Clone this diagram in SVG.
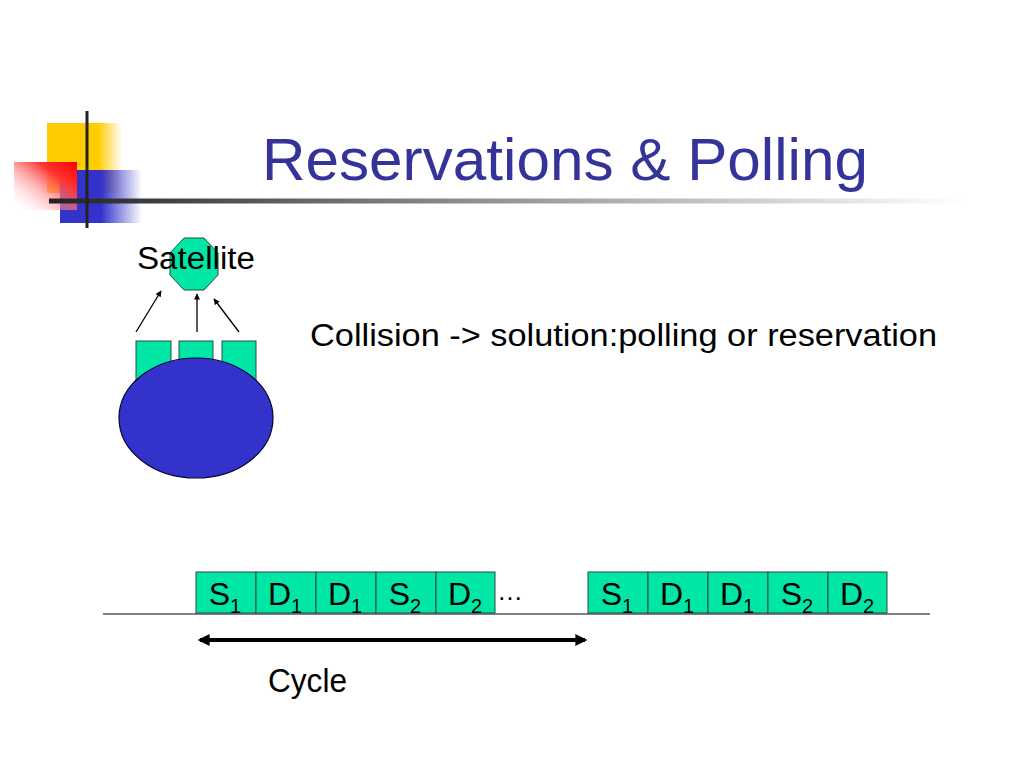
<svg xmlns="http://www.w3.org/2000/svg" width="1024" height="768" viewBox="0 0 1024 768">
<defs>
<style>
.t{font-family:"Liberation Sans",Arial,sans-serif;fill:#000}
.cell{fill:#00E6A6;stroke:#2a4a40;stroke-width:1}
.ct{font-family:"Liberation Sans",Arial,sans-serif;font-size:32px;fill:#000;text-anchor:middle}
.sub{font-size:20px}
.thin{stroke:#000;stroke-width:1.3;fill:none}
</style>
<linearGradient id="gy" x1="0" y1="0" x2="1" y2="0">
<stop offset="0" stop-color="#FFCC00"/>
<stop offset="0.68" stop-color="#FFCC00"/>
<stop offset="1" stop-color="#FFCC00" stop-opacity="0"/>
</linearGradient>
<linearGradient id="gb" x1="0" y1="0" x2="1" y2="0">
<stop offset="0" stop-color="#3333CC"/>
<stop offset="0.5" stop-color="#3333CC"/>
<stop offset="1" stop-color="#3333CC" stop-opacity="0"/>
</linearGradient>
<linearGradient id="gr" x1="1" y1="0" x2="0" y2="1">
<stop offset="0" stop-color="#FF0000"/>
<stop offset="0.3" stop-color="#FF3333"/>
<stop offset="1" stop-color="#FFFFFF" stop-opacity="0"/>
</linearGradient>
<linearGradient id="gl" x1="0" y1="0" x2="1" y2="0">
<stop offset="0" stop-color="#222"/>
<stop offset="0.35" stop-color="#777"/>
<stop offset="1" stop-color="#FFFFFF"/>
</linearGradient>
<marker id="ah" viewBox="0 0 10 10" refX="9" refY="5" markerWidth="7" markerHeight="6" orient="auto" markerUnits="userSpaceOnUse">
<path d="M0,0 L10,5 L0,10 Z" fill="#000"/>
</marker>
<marker id="ahb" viewBox="0 0 10 10" refX="8" refY="5" markerWidth="14" markerHeight="12" orient="auto-start-reverse" markerUnits="userSpaceOnUse">
<path d="M0,0 L10,5 L0,10 Z" fill="#000"/>
</marker>
</defs>
<rect width="1024" height="768" fill="#fff"/>

<g id="logo">
<rect x="47" y="123" width="75" height="70" fill="url(#gy)"/>
<rect x="60" y="170" width="82" height="53" fill="url(#gb)"/>
<rect x="14" y="162" width="63" height="48" fill="url(#gr)"/>
<rect x="49" y="198.5" width="915" height="5" fill="url(#gl)"/>
<rect x="85.5" y="111" width="3" height="117" fill="#222"/>
</g>

<g id="title">
<text class="t" x="262" y="180" font-size="60" style="fill:#333399" textLength="606" lengthAdjust="spacingAndGlyphs">Reservations &amp; Polling</text>
</g>

<g id="satellite">
<polygon points="184,238 204,238 218,253 218,275 204,290 184,290 170,275 170,253" fill="#00E6A6" stroke="#2a4a40" stroke-width="1"/>
<text class="t" x="137" y="269" font-size="31" textLength="118" lengthAdjust="spacingAndGlyphs">Satellite</text>
</g>

<g id="connectors">
<line class="thin" x1="136" y1="332" x2="161" y2="291" marker-end="url(#ah)"/>
<line class="thin" x1="197" y1="332" x2="197" y2="294" marker-end="url(#ah)"/>
<line class="thin" x1="239" y1="332" x2="214" y2="299" marker-end="url(#ah)"/>
<line x1="103" y1="614" x2="930" y2="614" stroke="#000" stroke-width="1.2"/>
<line x1="200" y1="640" x2="585" y2="640" stroke="#000" stroke-width="4" marker-start="url(#ahb)" marker-end="url(#ahb)"/>
</g>

<g id="ground-station">
<rect class="cell" x="136" y="341" width="35" height="50"/>
<rect class="cell" x="179" y="341" width="34" height="50"/>
<rect class="cell" x="222" y="341" width="34" height="50"/>
<ellipse cx="196" cy="418" rx="77" ry="60" fill="#3333CC" stroke="#000033" stroke-width="1.2"/>
</g>

<g id="collision-label">
<text class="t" x="310" y="346" font-size="31" textLength="627" lengthAdjust="spacingAndGlyphs">Collision -&gt; solution:polling or reservation</text>
</g>

<g id="cycle1">
<rect class="cell" x="196" y="572" width="60" height="41"/>
<rect class="cell" x="256" y="572" width="60" height="41"/>
<rect class="cell" x="316" y="572" width="60" height="41"/>
<rect class="cell" x="376" y="572" width="60" height="41"/>
<rect class="cell" x="436" y="572" width="59" height="41"/>
<text class="ct" x="225" y="605">S<tspan class="sub" dy="8">1</tspan></text>
<text class="ct" x="285" y="605">D<tspan class="sub" dy="8">1</tspan></text>
<text class="ct" x="345" y="605">D<tspan class="sub" dy="8">1</tspan></text>
<text class="ct" x="405" y="605">S<tspan class="sub" dy="8">2</tspan></text>
<text class="ct" x="465" y="605">D<tspan class="sub" dy="8">2</tspan></text>
</g>

<g id="ellipsis">
<text class="t" x="497" y="600" font-size="26" textLength="28" lengthAdjust="spacing">…</text>
</g>

<g id="cycle2">
<rect class="cell" x="588" y="572" width="60" height="41"/>
<rect class="cell" x="648" y="572" width="60" height="41"/>
<rect class="cell" x="708" y="572" width="60" height="41"/>
<rect class="cell" x="768" y="572" width="60" height="41"/>
<rect class="cell" x="828" y="572" width="59" height="41"/>
<text class="ct" x="617" y="605">S<tspan class="sub" dy="8">1</tspan></text>
<text class="ct" x="677" y="605">D<tspan class="sub" dy="8">1</tspan></text>
<text class="ct" x="737" y="605">D<tspan class="sub" dy="8">1</tspan></text>
<text class="ct" x="797" y="605">S<tspan class="sub" dy="8">2</tspan></text>
<text class="ct" x="857" y="605">D<tspan class="sub" dy="8">2</tspan></text>
</g>

<g id="cycle-label">
<text class="t" x="268" y="692" font-size="33" textLength="79" lengthAdjust="spacingAndGlyphs">Cycle</text>
</g>
</svg>
